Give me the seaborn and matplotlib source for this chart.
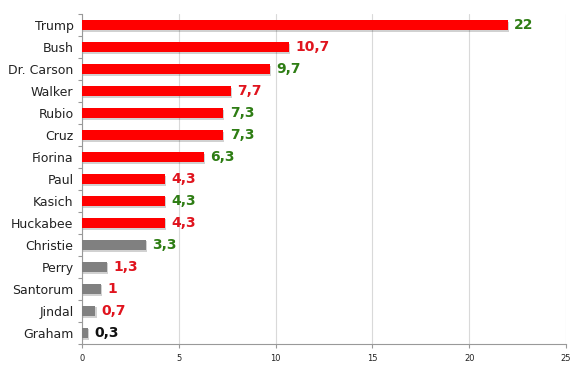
import matplotlib
matplotlib.use("Agg")
import matplotlib.pyplot as plt
import matplotlib.patheffects as pe
from matplotlib import font_manager
import seaborn as sns
import pandas as pd
import numpy as np

candidates = ["Trump", "Bush", "Dr. Carson", "Walker", "Rubio", "Cruz", "Fiorina",
              "Paul", "Kasich", "Huckabee", "Christie", "Perry", "Santorum", "Jindal", "Graham"]
values = [22, 10.7, 9.7, 7.7, 7.3, 7.3, 6.3, 4.3, 4.3, 4.3, 3.3, 1.3, 1, 0.7, 0.3]
value_labels = ["22", "10,7", "9,7", "7,7", "7,3", "7,3", "6,3", "4,3", "4,3", "4,3",
                "3,3", "1,3", "1", "0,7", "0,3"]
bar_groups = ["main"] * 10 + ["minor"] * 5
label_trend = ["up", "down", "up", "down", "up", "up", "up", "down", "up", "down",
               "up", "down", "down", "down", "same"]
x_ticks = [0, 5, 10, 15, 20, 25]

bar_palette = {"main": "#ff0000", "minor": "#808080"}
trend_colors = {"up": "#2e7d14", "down": "#e0141e", "same": "#111111"}

df = pd.DataFrame({"candidate": candidates, "value": values, "group": bar_groups})

sns.set_style("white")
plt.rcParams["font.family"] = ["DejaVu Sans"]

installed = {f.name for f in font_manager.fontManager.ttflist}
value_font = "Liberation Sans Narrow" if "Liberation Sans Narrow" in installed else "DejaVu Sans"
value_size = 11 if value_font == "Liberation Sans Narrow" else 10

fig = plt.figure(figsize=(5.85, 3.71), dpi=100)
ax = fig.add_axes([0.140, 0.073, 0.8275, 0.889])

sns.barplot(data=df, y="candidate", x="value", hue="group", palette=bar_palette,
            orient="h", width=0.47, dodge=False, legend=False, ax=ax, zorder=3,
            saturation=1)

for bar in ax.patches:
    bar.set_edgecolor("none")
    bar.set_path_effects([pe.SimplePatchShadow(offset=(0.8, -1.2), shadow_rgbFace="#000000",
                                               alpha=0.18), pe.Normal()])

ax.set_xlim(0, 25)
ax.set_ylim(14.45, -0.5)
ax.set_xticks(x_ticks)
ax.set_xticklabels([str(t) for t in x_ticks], fontsize=6, color="#222222")
ax.tick_params(axis="x", bottom=True, length=3, width=0.8, color="#999999", pad=4)
ax.tick_params(axis="y", which="major", left=False, length=0, pad=6, labelsize=9,
               labelcolor="#222222")
ax.set_xlabel("")
ax.set_ylabel("")
ax.grid(axis="x", color="#d9d9d9", linewidth=0.8, zorder=0)
ax.grid(axis="y", visible=False)

for s in ["top", "right"]:
    ax.spines[s].set_visible(False)
for s in ["left", "bottom"]:
    ax.spines[s].set_color("#999999")
    ax.spines[s].set_linewidth(0.8)

# small Excel-style ticks between categories on the y axis
ax.set_yticks(np.arange(-0.5, 15, 1), minor=True)
ax.tick_params(axis="y", which="minor", left=True, length=3, width=0.8, color="#999999")

for i, (v, lab, tr) in enumerate(zip(values, value_labels, label_trend)):
    ax.text(v + 0.33, i, lab, va="center", ha="left", fontsize=value_size, fontweight="bold",
            family=[value_font, "DejaVu Sans"], color=trend_colors[tr], zorder=4)

fig.savefig("out.png", dpi=100)
